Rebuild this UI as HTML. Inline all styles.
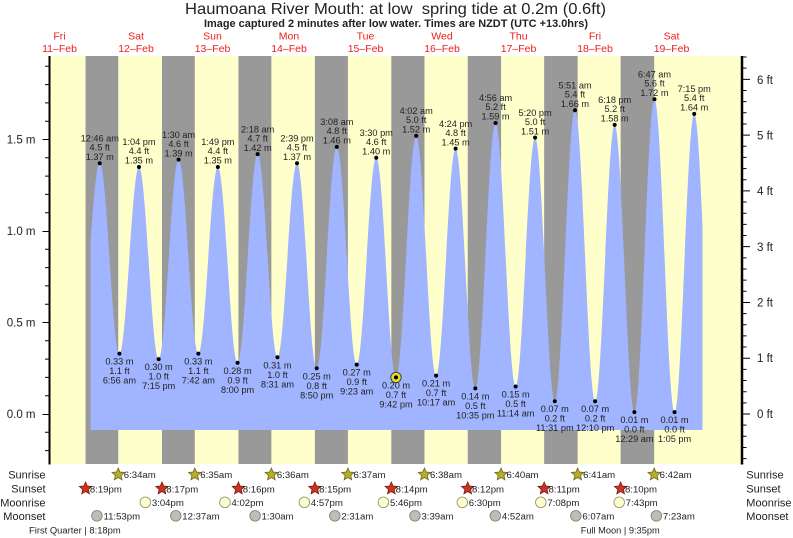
<!DOCTYPE html>
<html>
<head>
<meta charset="utf-8">
<style>
  html,body{margin:0;padding:0;background:#fff;}
  svg{display:block;}
  .l text{font-size:9.2px;text-anchor:middle;fill:#222;}
  .ax text{font-size:11.5px;fill:#222;}
  .rw text{font-size:9.6px;fill:#222;}
  .rl text{font-size:11px;fill:#222;}
  .dl text{font-size:10.5px;fill:#ee1c1c;text-anchor:middle;}
</style>
</head>
<body>
<svg width="793" height="538" viewBox="0 0 793 538" xmlns="http://www.w3.org/2000/svg" font-family="'Liberation Sans', Arial, sans-serif">
<defs>
  <path id="st" d="M0,-6.5 L1.76,-2.43 L6.18,-2.01 L2.85,0.93 L3.82,5.26 L0,3 L-3.82,5.26 L-2.85,0.93 L-6.18,-2.01 L-1.76,-2.43 Z"/>
  <clipPath id="cp"><rect x="90" y="56" width="612" height="408"/></clipPath>
</defs>
<rect width="793" height="538" fill="#fff"/>

<!-- Title -->
<text x="185" y="14" font-size="16" fill="#222" textLength="421" lengthAdjust="spacingAndGlyphs" style="white-space:pre">Haumoana River Mouth: at low  spring tide at 0.2m (0.6ft)</text>
<text x="204" y="27" font-size="11" font-weight="bold" fill="#222" textLength="384" lengthAdjust="spacingAndGlyphs">Image captured 2 minutes after low water. Times are NZDT (UTC +13.0hrs)</text>

<!-- Day labels -->
<g class="dl">
  <text x="59.5" y="39.5">Fri</text><text x="59.5" y="52">11–Feb</text>
  <text x="136" y="39.5">Sat</text><text x="136" y="52">12–Feb</text>
  <text x="212.5" y="39.5">Sun</text><text x="212.5" y="52">13–Feb</text>
  <text x="289" y="39.5">Mon</text><text x="289" y="52">14–Feb</text>
  <text x="365.5" y="39.5">Tue</text><text x="365.5" y="52">15–Feb</text>
  <text x="442" y="39.5">Wed</text><text x="442" y="52">16–Feb</text>
  <text x="518.5" y="39.5">Thu</text><text x="518.5" y="52">17–Feb</text>
  <text x="595" y="39.5">Fri</text><text x="595" y="52">18–Feb</text>
  <text x="671.5" y="39.5">Sat</text><text x="671.5" y="52">19–Feb</text>
</g>

<!-- Plot background -->
<rect x="50" y="56" width="691" height="408" fill="#ffffcc"/>

<g transform="translate(0.46,0)">
  <!-- night bands -->
  <g fill="#999999">
    <rect x="85.10" y="56" width="32.68" height="408"/>
    <rect x="161.50" y="56" width="32.83" height="408"/>
    <rect x="237.96" y="56" width="32.94" height="408"/>
    <rect x="314.41" y="56" width="33.04" height="408"/>
    <rect x="390.86" y="56" width="33.15" height="408"/>
    <rect x="467.26" y="56" width="33.36" height="408"/>
    <rect x="543.71" y="56" width="33.47" height="408"/>
    <rect x="620.16" y="56" width="33.58" height="408"/>
  </g>

  <!-- tide fill -->
  <path clip-path="url(#cp)" fill="#a0b4ff" d="M79.3,430 L79.3,348.1 C86.58,348.1 92.01,163.29 99.29,163.29 C106.45,163.29 111.79,353.61 118.95,353.61 C126.07,353.61 131.38,166.95 138.50,166.95 C145.67,166.95 151.04,359.1 158.21,359.1 C165.46,359.1 170.88,159.63 178.13,159.63 C185.32,159.63 190.70,353.61 197.89,353.61 C204.99,353.61 210.29,166.95 217.39,166.95 C224.56,166.95 229.93,362.76 237.10,362.76 C244.41,362.76 249.88,154.14 257.19,154.14 C264.40,154.14 269.79,357.27 277.00,357.27 C284.12,357.27 289.43,163.29 296.55,163.29 C303.72,163.29 309.09,368.25 316.26,368.25 C323.57,368.25 329.04,146.82 336.35,146.82 C343.60,146.82 349.02,364.59 356.27,364.59 C363.37,364.59 368.67,157.8 375.77,157.8 C382.96,157.8 388.34,377.4 395.53,377.4 C402.88,377.4 408.37,135.84 415.72,135.84 C422.97,135.84 428.39,375.57 435.64,375.57 C442.74,375.57 448.04,148.65 455.14,148.65 C462.31,148.65 467.68,388.38 474.85,388.38 C482.22,388.38 487.72,123.03 495.09,123.03 C502.40,123.03 507.87,386.55 515.18,386.55 C522.26,386.55 527.54,137.67 534.62,137.67 C541.79,137.67 547.16,401.19 554.33,401.19 C561.68,401.19 567.17,110.22 574.52,110.22 C581.85,110.22 587.33,401.19 594.66,401.19 C601.78,401.19 607.09,124.86 614.21,124.86 C621.38,124.86 626.75,412.17 633.92,412.17 C641.23,412.17 646.69,99.24 654.00,99.24 C661.31,99.24 666.77,412.17 674.08,412.17 C681.24,412.17 686.58,113.88 693.74,113.88 C700.99,113.88 706.41,414 713.66,414 L713.66,430 Z"/>

  <!-- current marker -->
  <circle cx="395.53" cy="377.4" r="5.2" fill="#e6dc28" stroke="#444" stroke-width="1"/>

  <!-- high tide labels -->
  <g class="l">
    <g transform="translate(99.29,163.29)"><circle r="2" fill="#000"/><text y="-21.8">12:46 am</text><text y="-12.8">4.5 ft</text><text y="-3.3">1.37 m</text></g>
    <g transform="translate(138.50,166.95)"><circle r="2" fill="#000"/><text y="-21.8">1:04 pm</text><text y="-12.8">4.4 ft</text><text y="-3.3">1.35 m</text></g>
    <g transform="translate(178.13,159.63)"><circle r="2" fill="#000"/><text y="-21.8">1:30 am</text><text y="-12.8">4.6 ft</text><text y="-3.3">1.39 m</text></g>
    <g transform="translate(217.39,166.95)"><circle r="2" fill="#000"/><text y="-21.8">1:49 pm</text><text y="-12.8">4.4 ft</text><text y="-3.3">1.35 m</text></g>
    <g transform="translate(257.19,154.14)"><circle r="2" fill="#000"/><text y="-21.8">2:18 am</text><text y="-12.8">4.7 ft</text><text y="-3.3">1.42 m</text></g>
    <g transform="translate(296.55,163.29)"><circle r="2" fill="#000"/><text y="-21.8">2:39 pm</text><text y="-12.8">4.5 ft</text><text y="-3.3">1.37 m</text></g>
    <g transform="translate(336.35,146.82)"><circle r="2" fill="#000"/><text y="-21.8">3:08 am</text><text y="-12.8">4.8 ft</text><text y="-3.3">1.46 m</text></g>
    <g transform="translate(375.77,157.8)"><circle r="2" fill="#000"/><text y="-21.8">3:30 pm</text><text y="-12.8">4.6 ft</text><text y="-3.3">1.40 m</text></g>
    <g transform="translate(415.72,135.84)"><circle r="2" fill="#000"/><text y="-21.8">4:02 am</text><text y="-12.8">5.0 ft</text><text y="-3.3">1.52 m</text></g>
    <g transform="translate(455.14,148.65)"><circle r="2" fill="#000"/><text y="-21.8">4:24 pm</text><text y="-12.8">4.8 ft</text><text y="-3.3">1.45 m</text></g>
    <g transform="translate(495.09,123.03)"><circle r="2" fill="#000"/><text y="-21.8">4:56 am</text><text y="-12.8">5.2 ft</text><text y="-3.3">1.59 m</text></g>
    <g transform="translate(534.62,137.67)"><circle r="2" fill="#000"/><text y="-21.8">5:20 pm</text><text y="-12.8">5.0 ft</text><text y="-3.3">1.51 m</text></g>
    <g transform="translate(574.52,110.22)"><circle r="2" fill="#000"/><text y="-21.8">5:51 am</text><text y="-12.8">5.4 ft</text><text y="-3.3">1.66 m</text></g>
    <g transform="translate(614.21,124.86)"><circle r="2" fill="#000"/><text y="-21.8">6:18 pm</text><text y="-12.8">5.2 ft</text><text y="-3.3">1.58 m</text></g>
    <g transform="translate(654.00,99.24)"><circle r="2" fill="#000"/><text y="-21.8">6:47 am</text><text y="-12.8">5.6 ft</text><text y="-3.3">1.72 m</text></g>
    <g transform="translate(693.74,113.88)"><circle r="2" fill="#000"/><text y="-21.8">7:15 pm</text><text y="-12.8">5.4 ft</text><text y="-3.3">1.64 m</text></g>
  </g>

  <!-- low tide labels -->
  <g class="l">
    <g transform="translate(118.95,353.61)"><circle r="2" fill="#000"/><text y="11">0.33 m</text><text y="20.5">1.1 ft</text><text y="30">6:56 am</text></g>
    <g transform="translate(158.21,359.1)"><circle r="2" fill="#000"/><text y="11">0.30 m</text><text y="20.5">1.0 ft</text><text y="30">7:15 pm</text></g>
    <g transform="translate(197.89,353.61)"><circle r="2" fill="#000"/><text y="11">0.33 m</text><text y="20.5">1.1 ft</text><text y="30">7:42 am</text></g>
    <g transform="translate(237.10,362.76)"><circle r="2" fill="#000"/><text y="11">0.28 m</text><text y="20.5">0.9 ft</text><text y="30">8:00 pm</text></g>
    <g transform="translate(277.00,357.27)"><circle r="2" fill="#000"/><text y="11">0.31 m</text><text y="20.5">1.0 ft</text><text y="30">8:31 am</text></g>
    <g transform="translate(316.26,368.25)"><circle r="2" fill="#000"/><text y="11">0.25 m</text><text y="20.5">0.8 ft</text><text y="30">8:50 pm</text></g>
    <g transform="translate(356.27,364.59)"><circle r="2" fill="#000"/><text y="11">0.27 m</text><text y="20.5">0.9 ft</text><text y="30">9:23 am</text></g>
    <g transform="translate(395.53,377.4)"><circle r="2" fill="#000"/><text y="11">0.20 m</text><text y="20.5">0.7 ft</text><text y="30">9:42 pm</text></g>
    <g transform="translate(435.64,375.57)"><circle r="2" fill="#000"/><text y="11">0.21 m</text><text y="20.5">0.7 ft</text><text y="30">10:17 am</text></g>
    <g transform="translate(474.85,388.38)"><circle r="2" fill="#000"/><text y="11">0.14 m</text><text y="20.5">0.5 ft</text><text y="30">10:35 pm</text></g>
    <g transform="translate(515.18,386.55)"><circle r="2" fill="#000"/><text y="11">0.15 m</text><text y="20.5">0.5 ft</text><text y="30">11:14 am</text></g>
    <g transform="translate(554.33,401.19)"><circle r="2" fill="#000"/><text y="11">0.07 m</text><text y="20.5">0.2 ft</text><text y="30">11:31 pm</text></g>
    <g transform="translate(594.66,401.19)"><circle r="2" fill="#000"/><text y="11">0.07 m</text><text y="20.5">0.2 ft</text><text y="30">12:10 pm</text></g>
    <g transform="translate(633.92,412.17)"><circle r="2" fill="#000"/><text y="11">0.01 m</text><text y="20.5">0.0 ft</text><text y="30">12:29 am</text></g>
    <g transform="translate(674.08,412.17)"><circle r="2" fill="#000"/><text y="11">0.01 m</text><text y="20.5">0.0 ft</text><text y="30">1:05 pm</text></g>
  </g>

  <!-- Sunrise -->
  <g fill="#b5ae2c" stroke="#6f6a1a" stroke-width="0.8">
    <use href="#st" x="117.78" y="474.5"/>
    <use href="#st" x="194.33" y="474.5"/>
    <use href="#st" x="270.90" y="474.5"/>
    <use href="#st" x="347.45" y="474.5"/>
    <use href="#st" x="424.01" y="474.5"/>
    <use href="#st" x="500.62" y="474.5"/>
    <use href="#st" x="577.18" y="474.5"/>
    <use href="#st" x="653.74" y="474.5"/>
  </g>
  <g class="rw">
    <text x="123.3" y="478">6:34am</text>
    <text x="199.8" y="478">6:35am</text>
    <text x="276.4" y="478">6:36am</text>
    <text x="353" y="478">6:37am</text>
    <text x="429.5" y="478">6:38am</text>
    <text x="506.1" y="478">6:40am</text>
    <text x="582.7" y="478">6:41am</text>
    <text x="659.2" y="478">6:42am</text>
  </g>
  <!-- Sunset -->
  <g fill="#cc3322" stroke="#7a1e12" stroke-width="0.8">
    <use href="#st" x="85.10" y="488.5"/>
    <use href="#st" x="161.50" y="488.5"/>
    <use href="#st" x="237.96" y="488.5"/>
    <use href="#st" x="314.41" y="488.5"/>
    <use href="#st" x="390.86" y="488.5"/>
    <use href="#st" x="467.26" y="488.5"/>
    <use href="#st" x="543.71" y="488.5"/>
    <use href="#st" x="620.16" y="488.5"/>
  </g>
  <g class="rw">
    <text x="89.4" y="492.5">8:19pm</text>
    <text x="165.8" y="492.5">8:17pm</text>
    <text x="242.3" y="492.5">8:16pm</text>
    <text x="318.7" y="492.5">8:15pm</text>
    <text x="395.2" y="492.5">8:14pm</text>
    <text x="471.6" y="492.5">8:12pm</text>
    <text x="548" y="492.5">8:11pm</text>
    <text x="624.5" y="492.5">8:10pm</text>
  </g>
  <!-- Moonrise -->
  <g fill="#ffffc8" stroke="#8a8a7a" stroke-width="0.8">
    <circle cx="144.87" cy="502.3" r="5.3"/>
    <circle cx="224.46" cy="502.3" r="5.3"/>
    <circle cx="303.89" cy="502.3" r="5.3"/>
    <circle cx="383.00" cy="502.3" r="5.3"/>
    <circle cx="461.84" cy="502.3" r="5.3"/>
    <circle cx="540.36" cy="502.3" r="5.3"/>
    <circle cx="618.72" cy="502.3" r="5.3"/>
  </g>
  <g class="rw">
    <text x="151.4" y="506">3:04pm</text>
    <text x="231" y="506">4:02pm</text>
    <text x="310.4" y="506">4:57pm</text>
    <text x="389.5" y="506">5:46pm</text>
    <text x="468.3" y="506">6:30pm</text>
    <text x="546.9" y="506">7:08pm</text>
    <text x="625.2" y="506">7:43pm</text>
  </g>
  <!-- Moonset -->
  <g fill="#c2bcb4" stroke="#7e7a74" stroke-width="0.8">
    <circle cx="96.47" cy="515.8" r="5.3"/>
    <circle cx="175.31" cy="515.8" r="5.3"/>
    <circle cx="254.64" cy="515.8" r="5.3"/>
    <circle cx="334.38" cy="515.8" r="5.3"/>
    <circle cx="414.50" cy="515.8" r="5.3"/>
    <circle cx="494.88" cy="515.8" r="5.3"/>
    <circle cx="575.37" cy="515.8" r="5.3"/>
    <circle cx="655.91" cy="515.8" r="5.3"/>
  </g>
  <g class="rw">
    <text x="103" y="519.5">11:53pm</text>
    <text x="181.8" y="519.5">12:37am</text>
    <text x="261.1" y="519.5">1:30am</text>
    <text x="340.9" y="519.5">2:31am</text>
    <text x="421" y="519.5">3:39am</text>
    <text x="501.4" y="519.5">4:52am</text>
    <text x="581.9" y="519.5">6:07am</text>
    <text x="662.4" y="519.5">7:23am</text>
  </g>
</g>

<!-- Moon phases -->
<g class="rw">
  <text x="29" y="533.5" font-size="9.4" textLength="91.7" lengthAdjust="spacingAndGlyphs">First Quarter | 8:18pm</text>
  <text x="580.7" y="533.5" font-size="9.4" textLength="79" lengthAdjust="spacingAndGlyphs">Full Moon | 9:35pm</text>
</g>

<!-- Row labels -->
<g class="rl">
  <text x="45.5" y="478.5" text-anchor="end">Sunrise</text>
  <text x="45.5" y="492.5" text-anchor="end">Sunset</text>
  <text x="45.5" y="506.3" text-anchor="end">Moonrise</text>
  <text x="45.5" y="520" text-anchor="end">Moonset</text>
  <text x="746.3" y="478.5">Sunrise</text>
  <text x="746.3" y="492.5">Sunset</text>
  <text x="746.3" y="506.3">Moonrise</text>
  <text x="746.3" y="520">Moonset</text>
</g>

<!-- Left axis -->
<line x1="49.5" y1="56" x2="49.5" y2="464.5" stroke="#000" stroke-width="2"/>
<g stroke="#000" stroke-width="1">
  <path d="M42.5,414.5H49 M42.5,322.5H49 M42.5,231.5H49 M42.5,139.5H49"/>
  <path d="M45,450.6H49 M45,432.3H49 M45,395.7H49 M45,377.4H49 M45,359.1H49 M45,340.8H49 M45,304.2H49 M45,285.9H49 M45,267.6H49 M45,249.3H49 M45,212.7H49 M45,194.4H49 M45,176.1H49 M45,157.8H49 M45,121.2H49 M45,102.9H49 M45,84.6H49 M45,66.3H49"/>
</g>
<g class="ax">
  <text x="35.5" y="143.5" text-anchor="end">1.5 m</text>
  <text x="35.5" y="235" text-anchor="end">1.0 m</text>
  <text x="35.5" y="326.7" text-anchor="end">0.5 m</text>
  <text x="35.5" y="418" text-anchor="end">0.0 m</text>
</g>

<!-- Right axis -->
<line x1="742" y1="56" x2="742" y2="464.5" stroke="#000" stroke-width="2.5"/>
<g stroke="#000" stroke-width="1">
  <path d="M743,414H750 M743,358.22H750 M743,302.44H750 M743,246.66H750 M743,190.88H750 M743,135.1H750 M743,79.32H750"/>
  <path d="M743,458.62H746.5 M743,447.47H746.5 M743,436.31H746.5 M743,425.16H746.5 M743,402.84H746.5 M743,391.69H746.5 M743,380.53H746.5 M743,369.38H746.5 M743,347.06H746.5 M743,335.91H746.5 M743,324.75H746.5 M743,313.6H746.5 M743,291.28H746.5 M743,280.13H746.5 M743,268.97H746.5 M743,257.82H746.5 M743,235.5H746.5 M743,224.35H746.5 M743,213.19H746.5 M743,202.04H746.5 M743,179.72H746.5 M743,168.57H746.5 M743,157.41H746.5 M743,146.26H746.5 M743,123.94H746.5 M743,112.79H746.5 M743,101.63H746.5 M743,90.48H746.5 M743,68.16H746.5 M743,57.01H746.5"/>
</g>
<g class="ax">
  <text x="757" y="84">6 ft</text>
  <text x="757" y="139.5">5 ft</text>
  <text x="757" y="195.2">4 ft</text>
  <text x="757" y="250.8">3 ft</text>
  <text x="757" y="306.6">2 ft</text>
  <text x="757" y="362.2">1 ft</text>
  <text x="757" y="418">0 ft</text>
</g>
</svg>
</body>
</html>
